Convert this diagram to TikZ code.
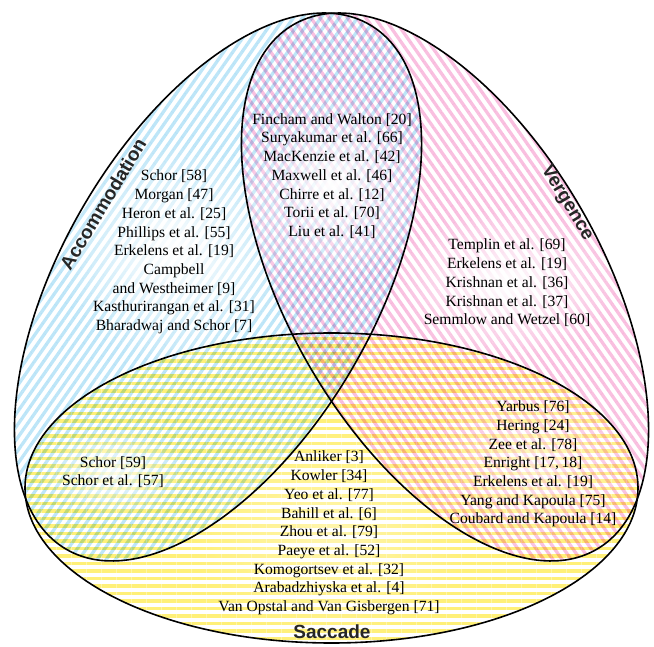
\documentclass[tikz,border=0pt]{standalone}
\usepackage{fontspec}
\setmainfont{Liberation Serif}
\newfontfamily\labelfont{Liberation Sans}
\usetikzlibrary{patterns.meta,fadings}
\definecolor{accblue}{RGB}{190,230,248}
\definecolor{vergpink}{RGB}{249,192,224}
\definecolor{sacyellow}{RGB}{255,240,120}
\tikzfading[name=softglow, inner color=transparent!0, outer color=transparent!100]
\begin{document}
\begin{tikzpicture}[x=1pt,y=1pt,
  outline/.style={draw=black,line width=1.6pt},
  reftext/.style={font=\fontsize{15.6}{18.7}\selectfont, align=center, inner sep=0pt},
  setlabel/.style={font=\labelfont\bfseries\fontsize{19}{22}\selectfont, text=black!85, inner sep=0pt},
  glow/.style={fill=white, path fading=softglow, fill opacity=1},
  stripes/.style={pattern={Lines[angle=#1,distance=7.5pt,line width=3.3pt]}}]
\useasboundingbox (0,0) rectangle (654,646);
\coordinate (ca) at (218,359);
\coordinate (cv) at (445,359);
\coordinate (cs) at (331.5,158);
% fills
\begin{scope}[blend mode=multiply]
  \begin{scope}
    \clip[rotate around={60:(ca)}] (ca) ellipse [x radius=303pt, y radius=157pt];
    \fill[stripes=55, pattern color=accblue] (0,0) rectangle (654,646);
  \end{scope}
  \begin{scope}
    \clip[rotate around={-60:(cv)}] (cv) ellipse [x radius=303pt, y radius=157pt];
    \fill[stripes=-55, pattern color=vergpink] (0,0) rectangle (654,646);
  \end{scope}
  \begin{scope}
    \clip (cs) ellipse [x radius=306.5pt, y radius=155pt];
    \fill[stripes=0, pattern color=sacyellow] (0,0) rectangle (654,646);
  \end{scope}
\end{scope}
% soft glows behind text
\fill[glow] (174,394) ellipse [x radius=115pt, y radius=110pt];
\fill[glow] (332,460) ellipse [x radius=95pt, y radius=95pt];
\fill[glow] (507,363) ellipse [x radius=110pt, y radius=75pt];
\fill[glow, fill opacity=0.8] (113,174) ellipse [x radius=75pt, y radius=45pt];
\fill[glow, fill opacity=0.6] (533,182) ellipse [x radius=110pt, y radius=90pt];
\fill[glow, fill opacity=0.4] (329,113) ellipse [x radius=140pt, y radius=110pt];
% outlines
\draw[outline, rotate around={60:(ca)}] (ca) ellipse [x radius=303pt, y radius=157pt];
\draw[outline, rotate around={-60:(cv)}] (cv) ellipse [x radius=303pt, y radius=157pt];
\draw[outline] (cs) ellipse [x radius=306.5pt, y radius=155pt];
% texts
\node[reftext] (accblock) at (174,394) {Schor [58]\\Morgan [47]\\Heron et al. [25]\\Phillips et al. [55]\\Erkelens et al. [19]\\Campbell\\and Westheimer [9]\\Kasthurirangan et al. [31]\\Bharadwaj and Schor [7]};
\node[reftext] (lensblock) at (332,470) {Fincham and Walton [20]\\Suryakumar et al. [66]\\MacKenzie et al. [42]\\Maxwell et al. [46]\\Chirre et al. [12]\\Torii et al. [70]\\Liu et al. [41]};
\node[reftext] (vergblock) at (507,363) {Templin et al. [69]\\Erkelens et al. [19]\\Krishnan et al. [36]\\Krishnan et al. [37]\\Semmlow and Wetzel [60]};
\node[reftext] (asblock) at (113,174) {Schor [59]\\Schor et al. [57]};
\node[reftext] (vsblock) at (533,182) {Yarbus [76]\\Hering [24]\\Zee et al. [78]\\Enright [17,\,18]\\Erkelens et al. [19]\\Yang and Kapoula [75]\\Coubard and Kapoula [14]};
\node[reftext] (sacblock) at (329,113) {Anliker [3]\\Kowler [34]\\Yeo et al. [77]\\Bahill et al. [6]\\Zhou et al. [79]\\Paeye et al. [52]\\Komogortsev et al. [32]\\Arabadzhiyska et al. [4]\\Van Opstal and Van Gisbergen [71]};
\node[setlabel, rotate=59] (acclabel) at (103,442) {Accommodation};
\node[setlabel, rotate=-59] (verglabel) at (567,443) {Vergence};
\node[setlabel] (saclabel) at (332,14) {Saccade};
\end{tikzpicture}
\end{document}
